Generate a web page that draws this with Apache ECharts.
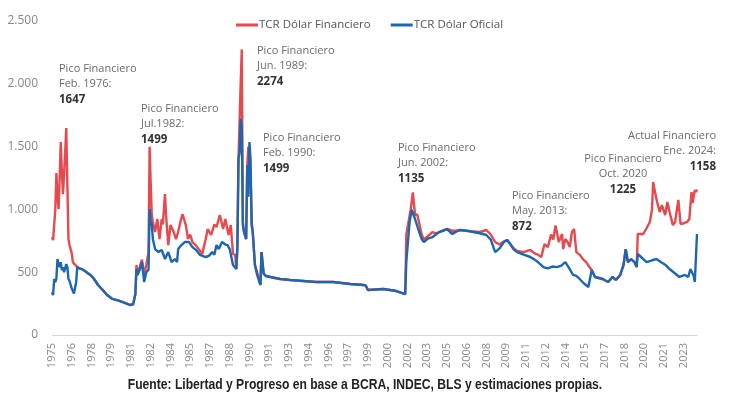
<!DOCTYPE html>
<html>
<head>
<meta charset="utf-8">
<script src="https://cdn.jsdelivr.net/npm/echarts@6/dist/echarts.min.js"></script>
<style>
  html, body { margin: 0; padding: 0; background: #fff; }
  #chart { width: 730px; height: 397px; }
</style>
</head>
<body>
<div id="chart"></div>
<script>
// meses desde ene-1975 hasta ene-2024
const firstYear = 1975
const monthCount = 589
const months = []
for (let i = 0; i < monthCount; i++) {
  months.push((firstYear + Math.floor(i / 12)) + '-' + String(i % 12 + 1).padStart(2, '0'))
}

const seriesNames = ['TCR Dólar Financiero', 'TCR Dólar Oficial']

// [indice de mes, valor]
const oficial = [
  [0,340],[1,318],[2,446],[3,420],[4,450],[5,605],[6,560],[7,541],[8,580],[9,517],[10,540],[11,500],
  [12,530],[13,565],[14,540],[15,446],[16,430],[17,400],[18,370],[19,350],[20,330],[21,318],[22,420],[23,541],
  [24,545],[25,530],[27,525],[30,510],[33,490],[35,478],[38,450],[42,398],[46,360],[50,320],[55,287],[60,275],
  [64,263],[68,250],[71,239],[74,245],[76,326],[77,525],[78,478],[80,520],[82,580],[84,422],[86,501],[88,520],
  [89,1003],[90,900],[91,875],[92,760],[94,684],[97,660],[100,677],[103,605],[106,660],[109,581],[112,605],[114,581],
  [115,684],[118,716],[121,740],[125,740],[128,700],[131,680],[135,637],[140,621],[143,630],[146,660],[148,640],[150,716],
  [152,684],[155,740],[158,720],[160,716],[162,684],[165,557],[168,525],[169,700],[170,1401],[171,1450],[172,1720],[173,1650],
  [174,875],[175,820],[177,764],[178,1353],[179,1100],[180,1536],[181,1400],[182,875],[183,820],[185,557],[187,478],[190,398],
  [191,660],[193,486],[195,470],[199,462],[208,446],[217,438],[229,430],[241,422],[256,422],[272,406],[284,398],[286,395],
  [288,358],[302,366],[314,350],[322,326],[323,581],[326,900],[328,995],[331,923],[334,840],[337,764],[339,740],[343,770],
  [347,780],[350,800],[353,820],[358,836],[360,844],[365,804],[368,820],[372,836],[378,830],[384,820],[390,810],[396,796],
  [400,760],[404,660],[408,690],[412,740],[415,756],[418,720],[421,680],[424,660],[430,640],[436,621],[440,600],[443,581],
  [448,541],[452,530],[456,545],[460,540],[464,550],[468,581],[472,525],[475,478],[478,470],[481,446],[485,410],[489,382],
  [492,517],[495,462],[502,446],[507,422],[511,462],[514,438],[518,478],[521,557],[523,684],[525,581],[528,605],[531,581],
  [533,541],[534,645],[537,621],[542,581],[547,595],[551,605],[555,581],[559,560],[563,525],[568,490],[572,462],[577,478],
  [580,462],[582,525],[585,470],[586,422],[588,804]
]

const financiero = [
  [0,780],[1,756],[3,1000],[4,1290],[5,1100],[6,1003],[7,1250],[8,1536],[9,1300],[10,1122],[12,1450],[13,1647],
  [14,1200],[15,764],[16,716],[18,650],[19,580],[21,560],[22,545],[23,541],
  [24,545],[25,530],[27,525],[30,510],[33,490],[35,478],[38,450],[42,398],[46,360],[50,320],[55,287],[60,275],
  [64,263],[68,250],[71,239],[74,245],[76,326],[77,557],[78,500],[80,540],[82,600],[84,480],[86,560],[88,660],
  [89,1499],[90,1200],[91,950],[92,900],[94,820],[96,923],[98,764],[100,923],[101,880],[103,1122],[104,950],[106,716],
  [108,875],[111,820],[113,764],[115,820],[117,900],[119,963],[122,875],[124,764],[126,800],[128,740],[131,716],[134,680],
  [137,645],[140,760],[142,844],[145,796],[148,880],[150,860],[153,955],[156,844],[158,923],[161,796],[163,875],[165,645],
  [167,637],[168,525],[169,700],[170,1401],[171,1700],[172,2000],[173,2274],[174,900],[175,820],[177,764],[178,1350],[179,1499],
  [180,1420],[181,1300],[182,900],[183,820],[185,557],[187,500],[190,398],
  [191,660],[193,486],[195,470],[199,462],[208,446],[217,438],[229,430],[241,422],[256,422],[272,406],[284,398],[286,395],
  [288,358],[302,366],[314,350],[322,326],[323,800],[325,900],[327,1000],[329,1135],[331,955],[333,960],[335,880],[337,800],
  [339,760],[343,790],[347,820],[350,810],[353,820],[358,836],[360,844],[365,830],[368,830],[372,836],[378,830],[384,825],
  [390,820],[396,836],[400,800],[404,740],[408,720],[412,745],[415,756],[418,720],[421,690],[424,670],[430,660],[436,677],
  [440,650],[443,640],[446,620],[449,724],[452,700],[455,800],[457,760],[459,872],[460,860],[462,740],[465,804],[466,684],
  [468,764],[470,740],[472,700],[474,820],[476,844],[478,660],[481,640],[484,605],[487,581],[490,540],
  [492,517],[495,462],[502,446],[507,422],[511,462],[514,438],[518,478],[521,557],[523,684],[525,581],[528,605],[531,581],
  [533,541],[534,804],[536,804],[539,804],[542,850],[545,900],[547,1000],[548,1218],[549,1225],[551,1083],[554,979],[556,1035],
  [559,955],[561,1059],[563,979],[566,875],[568,900],[571,1075],[573,884],[576,890],[579,900],[581,923],[583,1138],[584,1050],
  [585,1043],[586,1154],[587,1138],[588,1158]
]

// notas de los picos
const notes = [
  {x: 59, y: 61, align: 'left', title: 'Pico Financiero', date: 'Feb. 1976:', value: '1647'},
  {x: 141, y: 101, align: 'left', title: 'Pico Financiero', date: 'Jul.1982:', value: '1499'},
  {x: 257, y: 43, align: 'left', title: 'Pico Financiero', date: 'Jun. 1989:', value: '2274'},
  {x: 263, y: 130, align: 'left', title: 'Pico Financiero', date: 'Feb. 1990:', value: '1499'},
  {x: 398, y: 140, align: 'left', title: 'Pico Financiero', date: 'Jun. 2002:', value: '1135'},
  {x: 512, y: 188, align: 'left', title: 'Pico Financiero', date: 'May. 2013:', value: '872'},
  {x: 623, y: 151, align: 'center', title: 'Pico Financiero', date: 'Oct. 2020', value: '1225'},
  {x: 716, y: 128, align: 'right', title: 'Actual Financiero', date: 'Ene. 2024:', value: '1158'}
]

const RED = '#e6494e'
const BLUE = '#1d66b0'
const FONT = '"Open Sans", "Noto Sans", sans-serif'

const chart = echarts.init(document.getElementById('chart'))

const noteGraphics = notes.map(n => ({
  type: 'text',
  x: n.x,
  y: n.y,
  z: 100,
  style: {
    text: n.title + '\n' + n.date + '\n{b|' + n.value + '}',
    align: n.align,
    verticalAlign: 'top',
    font: '11px ' + FONT,
    fill: '#6b6b6b',
    lineHeight: 15.5,
    rich: {
      b: {font: 'bold 11.5px ' + FONT, fill: '#333', lineHeight: 15.5}
    }
  }
}))

chart.setOption({
  animation: false,
  backgroundColor: '#fff',
  textStyle: {fontFamily: FONT},
  grid: {left: 52, right: 33, top: 21, bottom: 62},
  legend: {
    top: 14,
    left: 231,
    itemWidth: 22,
    itemHeight: 3,
    itemGap: 20,
    icon: 'rect',
    textStyle: {fontSize: 11.5, color: '#555', padding: [0, 0, 0, -4]},
    data: seriesNames
  },
  xAxis: {
    type: 'category',
    data: months,
    boundaryGap: false,
    axisLine: {lineStyle: {color: '#d6d6d6', width: 1}},
    axisTick: {show: false},
    axisLabel: {
      interval: 17,
      rotate: 90,
      color: '#888',
      fontSize: 11,
      margin: 8,
      formatter: v => v.slice(0, 4)
    }
  },
  yAxis: {
    type: 'value',
    min: 0,
    max: 2500,
    interval: 500,
    splitLine: {show: false},
    axisLine: {show: false},
    axisTick: {show: false},
    axisLabel: {
      color: '#888',
      fontSize: 12,
      margin: 14,
      formatter: v => String(v).replace(/\B(?=(\d{3})+(?!\d))/g, '.')
    }
  },
  series: [
    {
      name: seriesNames[0],
      type: 'line',
      data: financiero,
      showSymbol: false,
      color: RED,
      lineStyle: {width: 2.4, color: RED}
    },
    {
      name: seriesNames[1],
      type: 'line',
      data: oficial,
      showSymbol: false,
      color: BLUE,
      lineStyle: {width: 2.4, color: BLUE}
    }
  ],
  graphic: noteGraphics.concat([{
    type: 'text',
    x: 365,
    y: 385,
    scaleX: 0.865,
    style: {
      text: 'Fuente: Libertad y Progreso en base a BCRA, INDEC, BLS y estimaciones propias.',
      align: 'center',
      verticalAlign: 'middle',
      font: 'bold 14px "Liberation Sans", Arial, sans-serif',
      fill: '#222'
    }
  }])
})
</script>
</body>
</html>
